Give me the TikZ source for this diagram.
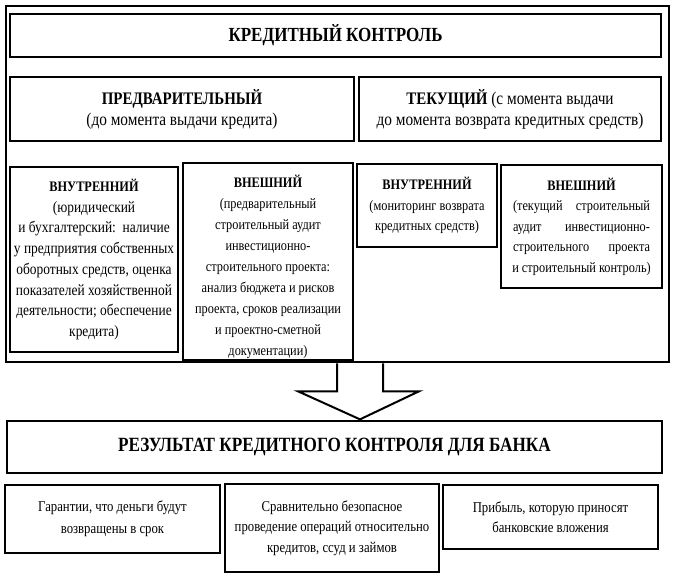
\documentclass[tikz,border=0pt]{standalone}
\usepackage{fontspec}
\setmainfont{Liberation Serif}[FakeStretch=0.85]
\usetikzlibrary{calc}
\newcommand{\titlefont}{\fontsize{20}{24}\selectfont\bfseries}
\newcommand{\secfont}{\fontsize{18}{21}\selectfont}
\newcommand{\sechead}{\fontsize{17.6}{21}\selectfont\bfseries}
\newcommand{\boxfont}{\fontsize{14.5}{20.5}\selectfont}
\newcommand{\jline}[1]{\makebox[137pt][s]{#1}}
\tikzset{
  box/.style={draw, line width=1.3pt, align=center, inner sep=2pt, font=\boxfont},
  ctlframe/.style={draw, line width=2.6pt, inner sep=0pt},
  bigarrow/.style={draw, line width=2pt, line join=miter, fill=white}
}
\begin{document}
\begin{tikzpicture}[x=1pt,y=-1pt]
  \useasboundingbox (0,0) rectangle (676,580);
  \node[ctlframe, minimum width=663pt, minimum height=356pt] (ctl) at (337.5,184) {};
  \node[box, minimum width=651pt, minimum height=43pt, font=\titlefont] (title) at (335.5,35.5) {КРЕДИТНЫЙ КОНТРОЛЬ};

  \node[box, minimum width=344pt, minimum height=64pt, font=\secfont] (pre) at (182,109) {{\sechead ПРЕДВАРИТЕЛЬНЫЙ}\\(до момента выдачи кредита)};
  \node[box, minimum width=302pt, minimum height=64pt, font=\secfont] (cur) at (510,109) {{\sechead ТЕКУЩИЙ} (с момента выдачи\\до момента возврата кредитных средств)};

  \node[box, minimum width=168pt, minimum height=185pt, font=\fontsize{15.8}{20.7}\selectfont] (in1) at (94,259.5) {{\fontsize{14.5}{20.7}\selectfont\bfseries ВНУТРЕННИЙ}\\(юридический\\ и бухгалтерский:\ \ наличие\\у предприятия собственных\\оборотных средств, оценка\\показателей хозяйственной\\деятельности; обеспечение\\кредита)};
  \node[box, minimum width=170pt, minimum height=197pt] (ex1) at (268,261.5) {};
  \node[font=\fontsize{14.5}{21}\selectfont, align=center, anchor=north, inner sep=0pt] (ex1txt) at ($(ex1.north)+(0,12.5)$) {\textbf{ВНЕШНИЙ}\\(предварительный\\строительный аудит\\инвестиционно-\\строительного проекта:\\анализ бюджета и рисков\\проекта, сроков реализации\\и проектно-сметной\\документации)};
  \node[box, minimum width=140pt, minimum height=83pt] (in2) at (427,205.5) {\textbf{ВНУТРЕННИЙ}\\(мониторинг возврата\\кредитных средств)};
  \node[box, minimum width=161pt, minimum height=123pt] (ex2) at (581.5,226.5) {\textbf{ВНЕШНИЙ}\\\jline{(текущий строительный}\\\jline{аудит инвестиционно-}\\\jline{строительного проекта}\\и строительный контроль)};

  \node[box, minimum width=655pt, minimum height=52pt, font=\fontsize{20.2}{24}\selectfont\bfseries] (res) at (334.5,447) {РЕЗУЛЬТАТ КРЕДИТНОГО КОНТРОЛЯ ДЛЯ БАНКА};
  \draw[bigarrow] ($(ctl.south)+(-0.5,0)$) -- ++(0,28) -- ++(-39,0) -- ($(res.north)+(25.5,-1)$) -- ($(ctl.south)+(81.5,28)$) -- ++(-36,0) -- ($(ctl.south)+(45.5,0)$);

  \node[box, minimum width=215pt, minimum height=68pt, font=\fontsize{15}{22}\selectfont] (g1) at (112.5,519) {Гарантии, что деньги будут\\возвращены в срок};
  \node[box, minimum width=214pt, minimum height=88pt, font=\fontsize{15}{20.5}\selectfont] (g2) at (332,528) {Сравнительно безопасное\\проведение операций относительно\\кредитов, ссуд и займов};
  \node[box, minimum width=215pt, minimum height=64pt, font=\fontsize{15}{20}\selectfont] (g3) at (550.5,517) {Прибыль, которую приносят\\банковские вложения};
\end{tikzpicture}
\end{document}
